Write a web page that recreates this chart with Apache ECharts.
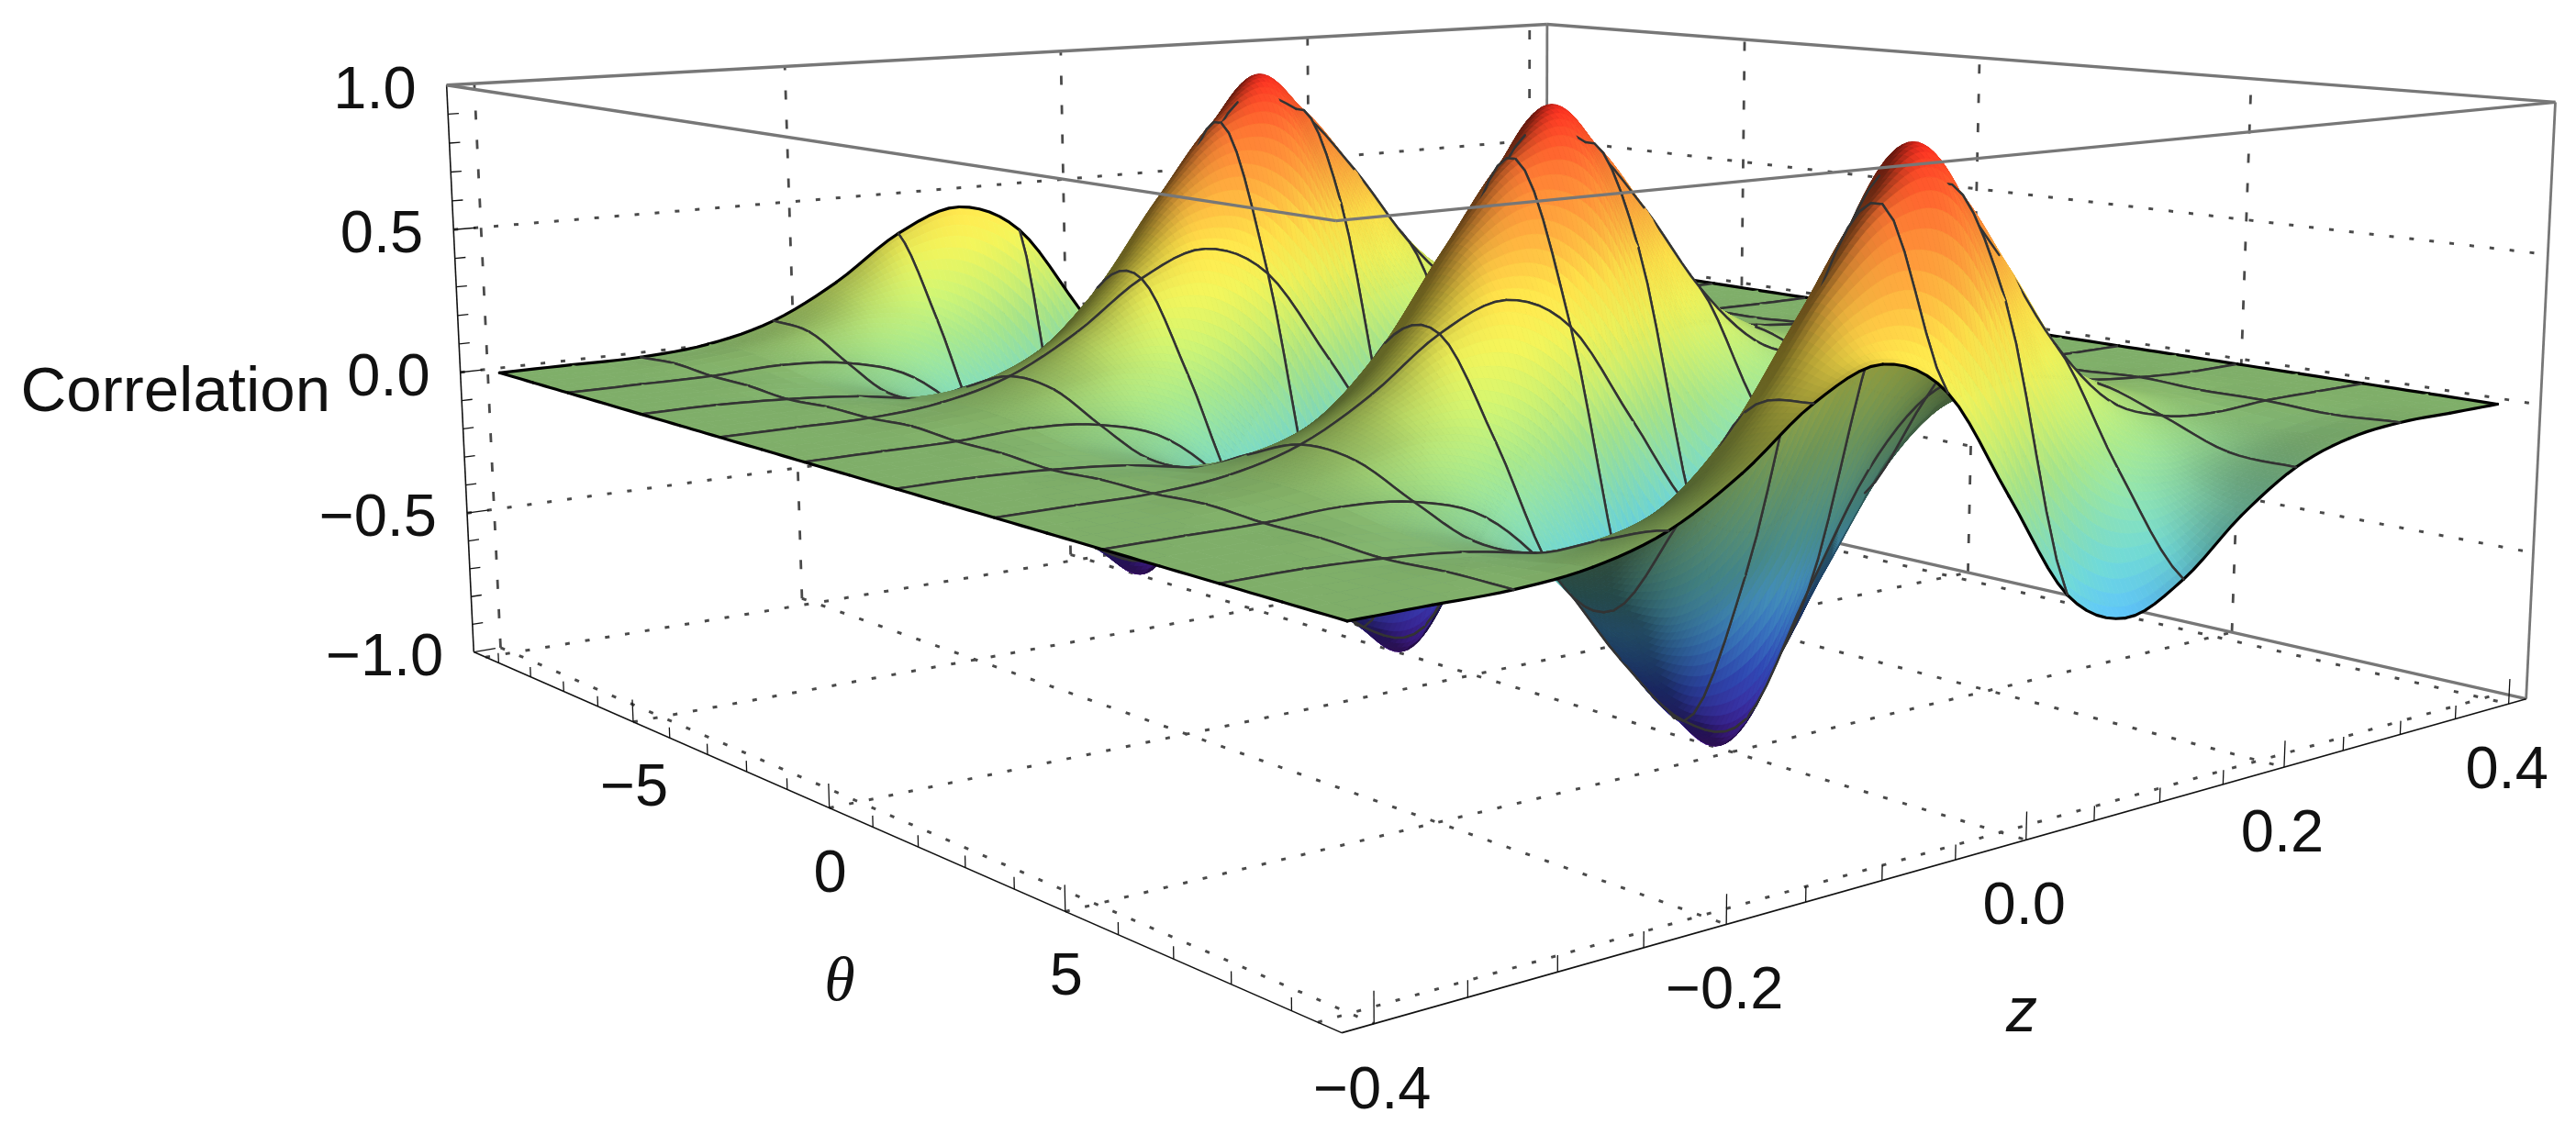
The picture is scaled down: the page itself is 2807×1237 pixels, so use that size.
<!DOCTYPE html>
<html><head><meta charset="utf-8">
<style>html,body{margin:0;padding:0;background:#fff}#c{width:2807px;height:1237px}</style>
<script src="https://cdn.jsdelivr.net/npm/echarts@6/dist/echarts.min.js"></script>
</head><body><div id="c"></div>
<script>
// ---------- data ----------
const thetaNodes=[-9.42,-8.38,-7.33,-6.28,-5.24,-4.19,-3.14,-2.09,-1.05,0,1.05,2.09,3.14,4.19,5.24,6.28,7.33,8.38,9.42];
const zNodes=[-0.4,-0.3556,-0.3111,-0.2667,-0.2222,-0.1778,-0.1333,-0.0889,-0.0444,0,0.0444,0.0889,0.1333,0.1778,0.2222,0.2667,0.3111,0.3556,0.4];
const corrZ00=[0,0,0,0,0,0,0,0,0,0,0,0,0,0,0,0,0,0,0];
const corrZ01=[0,0,0,0,0,0,0,0,0,0,0,0,0,0,0,0,0,0,0];
const corrZ02=[0,.01,0,0,-.01,0,0,.01,0,0,-.01,0,0,.01,0,0,-.01,0,0];
const corrZ03=[.02,.03,.01,-.02,-.03,-.01,.02,.03,.01,-.02,-.03,-.01,.02,.03,.01,-.02,-.03,-.01,.02];
const corrZ04=[.08,.07,-.01,-.08,-.07,.01,.08,.07,-.01,-.08,-.07,.01,.08,.07,-.01,-.08,-.07,.01,.08];
const corrZ05=[.20,.11,-.09,-.20,-.11,.09,.20,.11,-.09,-.20,-.11,.09,.20,.11,-.09,-.20,-.11,.09,.20];
const corrZ06=[.36,.06,-.30,-.36,-.06,.30,.36,.06,-.30,-.36,-.06,.30,.36,.06,-.30,-.36,-.06,.30,.36];
const corrZ07=[.44,-.15,-.60,-.44,.15,.60,.44,-.15,-.60,-.44,.15,.60,.44,-.15,-.60,-.44,.15,.60,.44];
const corrZ08=[.33,-.51,-.84,-.33,.51,.84,.33,-.51,-.84,-.33,.51,.84,.33,-.51,-.84,-.33,.51,.84,.33];
const corrZ09=[0,-.88,-.88,0,.88,.88,0,-.88,-.88,0,.88,.88,0,-.88,-.88,0,.88,.88,0];
const corrZ10=[-.33,-.84,-.51,.33,.84,.51,-.33,-.84,-.51,.33,.84,.51,-.33,-.84,-.51,.33,.84,.51,-.33];
const corrZ11=[-.44,-.60,-.15,.44,.60,.15,-.44,-.60,-.15,.44,.60,.15,-.44,-.60,-.15,.44,.60,.15,-.44];
const corrZ12=[-.36,-.30,.06,.36,.30,-.06,-.36,-.30,.06,.36,.30,-.06,-.36,-.30,.06,.36,.30,-.06,-.36];
const corrZ13=[-.20,-.09,.11,.20,.09,-.11,-.20,-.09,.11,.20,.09,-.11,-.20,-.09,.11,.20,.09,-.11,-.20];
const corrZ14=[-.08,-.01,.07,.08,.01,-.07,-.08,-.01,.07,.08,.01,-.07,-.08,-.01,.07,.08,.01,-.07,-.08];
const corrZ15=[-.02,.01,.03,.02,-.01,-.03,-.02,.01,.03,.02,-.01,-.03,-.02,.01,.03,.02,-.01,-.03,-.02];
const corrZ16=[0,0,.01,0,0,-.01,0,0,.01,0,0,-.01,0,0,.01,0,0,-.01,0];
const corrZ17=[0,0,0,0,0,0,0,0,0,0,0,0,0,0,0,0,0,0,0];
const corrZ18=[0,0,0,0,0,0,0,0,0,0,0,0,0,0,0,0,0,0,0];
const corr=[corrZ00,corrZ01,corrZ02,corrZ03,corrZ04,corrZ05,corrZ06,corrZ07,corrZ08,corrZ09,corrZ10,corrZ11,corrZ12,corrZ13,corrZ14,corrZ15,corrZ16,corrZ17,corrZ18];
const thetaTickLabels=['−5','0','5'], thetaTickValues=[-5,0,5];
const zTickLabels=['−0.4','−0.2','0.0','0.2','0.4'], zTickValues=[-0.4,-0.2,0,0.2,0.4];
const corrTickLabels=['−1.0','−0.5','0.0','0.5','1.0'], corrTickValues=[-1,-0.5,0,0.5,1];

// ---------- camera: projective fit to the box seen in the picture ----------
const TB=9.8, ZB=0.4167;
const anchors=[
[-TB,-ZB,1,486,92.5],[TB,-ZB,1,1458,241],[TB,ZB,1,2785,111],[-TB,ZB,1,1686,27],
[-TB,-ZB,-1,516,710],[TB,-ZB,-1,1463,1125],[TB,ZB,-1,2754,762],
[-9.42,-.4,0,545,406],[9.42,-.4,0,1465,677],[9.42,.4,0,2720,440],
[-5,-ZB,-1,690,787],[0,-ZB,-1,904,881],[5,-ZB,-1,1161,994],
[TB,-.2,-1,1881,1008],[TB,0,-1,2208,915],[TB,.2,-1,2488,836]];
function fitCamera(){
  const n=11,A=[],B=[];
  for(let r=0;r<n;r++){A.push(new Array(n).fill(0));B.push(0);}
  function add(row,rhs){for(let a=0;a<n;a++){B[a]+=row[a]*rhs;for(let b=0;b<n;b++)A[a][b]+=row[a]*row[b];}}
  anchors.forEach(p=>{const X=p[0]/10,Y=p[1]/.4,Z=p[2],u=p[3]/1000,v=p[4]/1000;
    add([X,Y,Z,1,0,0,0,0,-u*X,-u*Y,-u*Z],u);
    add([0,0,0,0,X,Y,Z,1,-v*X,-v*Y,-v*Z],v);});
  for(let c=0;c<n;c++){let m=c;for(let r=c+1;r<n;r++)if(Math.abs(A[r][c])>Math.abs(A[m][c]))m=r;
    [A[c],A[m]]=[A[m],A[c]];[B[c],B[m]]=[B[m],B[c]];
    for(let r=0;r<n;r++){if(r===c)continue;const f=A[r][c]/A[c][c];for(let k=c;k<n;k++)A[r][k]-=f*A[c][k];B[r]-=f*B[c];}}
  return B.map((b,i)=>b/A[i][i]);
}
const P=fitCamera();
function project(t,z,v){const X=t/10,Y=z/.4,Z=v,w=P[8]*X+P[9]*Y+P[10]*Z+1;
  return [(P[0]*X+P[1]*Y+P[2]*Z+P[3])/w*1000,(P[4]*X+P[5]*Y+P[6]*Z+P[7])/w*1000];}

// ---------- surface display refinement ----------
const SUB=12,NC=thetaNodes.length-1,NR=zNodes.length-1;
function cr(a,b,c,d,t){return .5*(2*b+(c-a)*t+(2*a-5*b+4*c-d)*t*t+(3*b-a-3*c+d)*t*t*t);}
function at(j,i){return corr[Math.max(0,Math.min(NR,j))][Math.max(0,Math.min(NC,i))];}
function surf(fi,fj){
  const i=Math.min(NC-1,Math.floor(fi)),j=Math.min(NR-1,Math.floor(fj)),ti=fi-i,tj=fj-j,q=[];
  for(let m=-1;m<3;m++)q.push(cr(at(j+m,i-1),at(j+m,i),at(j+m,i+1),at(j+m,i+2),ti));
  return cr(q[0],q[1],q[2],q[3],tj);
}
function nodeVal(arr,f){const i=Math.min(arr.length-2,Math.floor(f));return arr[i]+(arr[i+1]-arr[i])*(f-i);}
const FN=NC*SUB+1,FM=NR*SUB+1,fine=[];
for(let a=0;a<FN;a++){const c=[];for(let b=0;b<FM;b++){
  const fi=a/SUB,fj=b/SUB;c.push([nodeVal(thetaNodes,fi),nodeVal(zNodes,fj),surf(fi,fj)]);}fine.push(c);}

const stopV=[-1,-.88,-.7,-.55,-.45,-.3,0,.15,.3,.45,.6,.8,1];
const stopC=[[100,30,170],[70,40,175],[56,85,210],[72,150,240],[90,190,250],[110,215,215],[167,229,138],[205,240,112],[240,243,90],[255,226,74],[255,180,64],[255,122,52],[255,42,32]];
function baseColor(v){v=Math.max(-1,Math.min(1,v));let k=0;while(k<stopV.length-2&&v>stopV[k+1])k++;
  const t=(v-stopV[k])/(stopV[k+1]-stopV[k]);return stopC[k].map((c,n)=>c+(stopC[k+1][n]-c)*t);}
const L=[.78,.2,.55],VIEW=[.62,-.68,.38];
function shade(a,b){
  const a1=Math.min(FN-1,a+1),b1=Math.min(FM-1,b+1);
  const va=(fine[a1][b][2]+fine[a1][b1][2]-fine[a][b][2]-fine[a][b1][2])/2;
  const vb=(fine[a][b1][2]+fine[a1][b1][2]-fine[a][b][2]-fine[a1][b][2])/2;
  const dt=fine[a1][b][0]-fine[a][b][0],dz=fine[a][b1][1]-fine[a][b][1];
  const Zx=.2*19.6*va/dt,Zy=.2*.8333*vb/dz;
  const v=(fine[a][b][2]+fine[a1][b][2]+fine[a][b1][2]+fine[a1][b1][2])/4;
  let n=[-Zx,-Zy,1];const l=Math.hypot(n[0],n[1],n[2]);n=n.map(x=>x/l);
  let under=1;
  if(n[0]*VIEW[0]+n[1]*VIEW[1]+n[2]*VIEW[2]<0){n=n.map(x=>-x);under=.8+.35*Math.max(0,Math.min(1,(-v-.3)/.5));}
  const d=Math.max(0,n[0]*L[0]+n[1]*L[1]+n[2]*L[2]);
  const f=(.42+.62*d)*under;
  const c=baseColor(v).map(x=>Math.min(255,Math.round(x*f)));
  return 'rgb('+c.join(',')+')';
}
const cellColors=[];
for(let a=0;a<FN-1;a++){const r=[];for(let b=0;b<FM-1;b++)r.push(shade(a,b));cellColors.push(r);}

function renderCell(params,api){
  const i=api.value(0),j=api.value(1),ch=[];
  const pt=(a,b)=>{const f=fine[a][b];const p=project(f[0],f[1],f[2]);return api.coord(p);};
  const step=(j<=2||j>=15)?4:1;
  for(let s=0;s<SUB;s+=step){for(let r=SUB-step;r>=0;r-=step){
    const a=i*SUB+s,b=j*SUB+r,col=cellColors[a][b];
    ch.push({type:'polygon',silent:true,shape:{points:[pt(a,b),pt(a+step,b),pt(a+step,b+step),pt(a,b+step)]},
      style:{fill:col,stroke:col,lineWidth:.8}});
  }}
  function edge(pts,boundary){ch.push({type:'polyline',silent:true,shape:{points:pts},
    style:{fill:null,stroke:boundary?'#000':'#333',lineWidth:boundary?3.2:2.5,lineJoin:'round',lineCap:'round'}});}
  const ia=i*SUB,ib=(i+1)*SUB,ja=j*SUB,jb=(j+1)*SUB;
  const lineI=a=>{const q=[];for(let b=ja;b<=jb;b+=2)q.push(pt(a,b));return q;};
  const lineJ=b=>{const q=[];for(let a=ia;a<=ib;a+=2)q.push(pt(a,b));return q;};
  if(i%2===0)edge(lineI(ia),i===0);
  if((i+1)%2===0)edge(lineI(ib),i+1===NC);
  if(j%2===0)edge(lineJ(ja),j===0);
  if((j+1)%2===0)edge(lineJ(jb),j+1===NR);
  return {type:'group',children:ch};
}
const cellData=[];
for(let i=0;i<NC;i++)for(let j=NR-1;j>=0;j--)cellData.push([i,j,corr[j][i]]);

// ---------- box, grids, ticks ----------
const styles={
  dot:{stroke:'#4a4a4a',lineWidth:3,lineDash:[5,17]},
  dotV:{stroke:'#4a4a4a',lineWidth:2.8,lineDash:[10,22]},
  grey:{stroke:'#777',lineWidth:3.4},
  greyThin:{stroke:'#777',lineWidth:2.8},
  axis:{stroke:'#111',lineWidth:1.6},
  tick:{stroke:'#111',lineWidth:1.3}
};
const gridTheta=[-9.42].concat(thetaTickValues,[9.42]);
const back=[];
function seg(list,a,b,kind){list.push([a[0],a[1],a[2],b[0],b[1],b[2],kind]);}
zTickValues.forEach(z=>{
  seg(back,[-TB,z,-1],[TB,z,-1],'dot');
  seg(back,[-TB,z,-1],[-TB,z,1],'dotV');
});
gridTheta.forEach(t=>seg(back,[t,-ZB,-1],[t,ZB,-1],'dot'));
thetaTickValues.forEach(t=>seg(back,[t,ZB,-1],[t,ZB,1],'dotV'));
corrTickValues.slice(1,4).forEach(v=>{
  seg(back,[-TB,-ZB,v],[-TB,ZB,v],'dot');
  seg(back,[-TB,ZB,v],[TB,ZB,v],'dot');
});
seg(back,[TB,ZB,-1],[-TB,ZB,-1],'grey');
seg(back,[-TB,ZB,-1],[-TB,ZB,1],'greyThin');
seg(back,[TB,ZB,-1],[TB,ZB,1],'greyThin');
seg(back,[-TB,-ZB,-1],[-TB,-ZB,1],'axis');
seg(back,[-TB,-ZB,-1],[TB,-ZB,-1],'axis');
seg(back,[TB,-ZB,-1],[TB,ZB,-1],'axis');
for(let t=-9;t<=9;t++){const M=t%5===0;seg(back,[t,-ZB,-1],[t,-ZB,M?-.925:-.965],'tick');}
for(let k=-8;k<=8;k++){const z=k*.05,M=k%4===0;seg(back,[TB,z,-1],[TB,z,M?-.915:-.955],'tick');}
for(let k=-10;k<=10;k++){const v=k/10,M=k%5===0;seg(back,[-TB,-ZB,v],[-TB,-ZB+(M?.0135:.0065),v],'tick');}
const front=[];
seg(front,[-TB,-ZB,1],[TB,-ZB,1],'grey');
seg(front,[TB,-ZB,1],[TB,ZB,1],'grey');
seg(front,[TB,ZB,1],[-TB,ZB,1],'grey');
seg(front,[-TB,ZB,1],[-TB,-ZB,1],'grey');

function renderSeg(params,api){
  const a=api.coord(project(api.value(0),api.value(1),api.value(2)));
  const b=api.coord(project(api.value(3),api.value(4),api.value(5)));
  const d=params.context.rows[params.dataIndex][6];
  return {type:'line',silent:true,shape:{x1:a[0],y1:a[1],x2:b[0],y2:b[1]},style:styles[d]};
}
function segSeries(rows,zz){return {type:'custom',coordinateSystem:'cartesian2d',z:zz,silent:true,clip:false,progressive:0,animation:false,
  data:rows.map(r=>r.slice(0,6)),renderItem:(p,api)=>{p.context.rows=rows;return renderSeg(p,api);}};}

// ---------- labels ----------
const FONT='65px "Liberation Sans"';
const labels=[];
thetaTickValues.forEach((t,k)=>labels.push({p:project(t,-ZB,-1),dx:1,dy:73,text:thetaTickLabels[k],align:'center'}));
zTickValues.forEach((z,k)=>labels.push({p:project(TB,z,-1),dx:-2,dy:74,text:zTickLabels[k],align:'center'}));
corrTickValues.forEach((v,k)=>labels.push({p:project(-TB,-ZB,v),dx:-33,dy:7,text:corrTickLabels[k],align:'right'}));
labels.push({p:[360,429],dx:0,dy:0,text:'Correlation',align:'right',font:'69px "Liberation Sans"'});
labels.push({p:[915,1072],dx:0,dy:0,text:'θ',align:'center',font:'italic 68px "Liberation Serif"'});
labels.push({p:[2203,1105],dx:0,dy:0,text:'z',align:'center',font:'italic 68px "Liberation Sans"'});
function renderLabel(params,api){
  const l=labels[params.dataIndex],c=api.coord([l.p[0]+l.dx,l.p[1]+l.dy]);
  return {type:'text',silent:true,style:{text:l.text,x:c[0],y:c[1],fill:'#111',font:l.font||FONT,textAlign:l.align,textVerticalAlign:'middle'}};
}

const chart=echarts.init(document.getElementById('c'),null,{renderer:'canvas',width:2807,height:1237});
chart.setOption({
  animation:false,backgroundColor:'#fff',
  grid:{left:0,right:0,top:0,bottom:0},
  xAxis:{type:'value',min:0,max:2807,show:false},
  yAxis:{type:'value',min:0,max:1237,inverse:true,show:false},
  tooltip:{show:false},
  series:[
    segSeries(back,2),
    {type:'custom',coordinateSystem:'cartesian2d',z:3,silent:true,clip:false,progressive:0,animation:false,data:cellData,renderItem:renderCell},
    segSeries(front,4),
    {type:'custom',coordinateSystem:'cartesian2d',z:5,silent:true,clip:false,progressive:0,animation:false,
      data:labels.map((l,k)=>[k]),renderItem:renderLabel}
  ]
});
</script></body></html>
